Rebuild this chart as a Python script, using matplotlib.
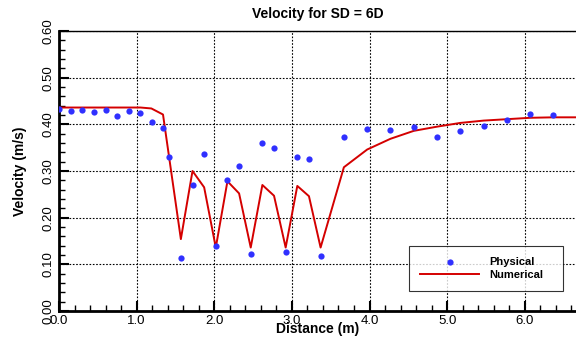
import numpy as np
import matplotlib
matplotlib.use("Agg")
import matplotlib.pyplot as plt
from matplotlib.ticker import MultipleLocator

# Physical (measured) velocities
phys_x = [0.00, 0.15, 0.30, 0.45, 0.60, 0.75, 0.90, 1.05, 1.20, 1.34, 1.42,
          1.57, 1.73, 1.87, 2.02, 2.17, 2.32, 2.47, 2.62, 2.77, 2.92, 3.07,
          3.22, 3.37, 3.67, 3.97, 4.27, 4.57, 4.87, 5.17, 5.47, 5.77, 6.07, 6.37]
phys_v = [0.432, 0.428, 0.431, 0.426, 0.430, 0.417, 0.428, 0.424, 0.406, 0.392, 0.331,
          0.114, 0.271, 0.336, 0.139, 0.280, 0.310, 0.123, 0.360, 0.349, 0.127, 0.331,
          0.326, 0.118, 0.373, 0.389, 0.388, 0.395, 0.373, 0.386, 0.397, 0.409, 0.423, 0.420]

# Numerical model velocities
num_x = [0.00, 0.30, 0.60, 0.90, 1.05, 1.19, 1.34, 1.57, 1.72, 1.87, 2.02, 2.17,
         2.32, 2.47, 2.62, 2.77, 2.92, 3.07, 3.22, 3.37, 3.67, 3.97, 4.27, 4.57,
         4.87, 5.17, 5.47, 5.77, 6.07, 6.37, 6.66]
num_v = [0.436, 0.436, 0.436, 0.436, 0.436, 0.434, 0.421, 0.154, 0.300, 0.265, 0.136, 0.278,
         0.252, 0.136, 0.270, 0.247, 0.136, 0.268, 0.246, 0.136, 0.308, 0.346, 0.369, 0.386,
         0.395, 0.403, 0.408, 0.411, 0.414, 0.415, 0.415]

plt.rcParams["font.family"] = ["Liberation Sans", "DejaVu Sans"]

fig = plt.figure(figsize=(5.76, 3.39), dpi=100)
ax = fig.add_axes([0.1024, 0.0826, 0.8976, 0.826])

ax.plot(num_x, num_v, color="#d40000", linewidth=1.4, label="Numerical", zorder=3)
ax.plot(phys_x, phys_v, linestyle="none", marker="o", markersize=4.5,
        color="#3030ff", markeredgewidth=0, label="Physical", zorder=4)

ax.set_xlim(0, 6.66)
ax.set_ylim(0, 0.6)
ax.xaxis.set_major_locator(MultipleLocator(1.0))
ax.xaxis.set_minor_locator(MultipleLocator(0.2))
ax.yaxis.set_major_locator(MultipleLocator(0.1))
ax.yaxis.set_minor_locator(MultipleLocator(0.02))
ax.xaxis.set_major_formatter(plt.FuncFormatter(lambda v, p: f"{v:.1f}"))
ax.yaxis.set_major_formatter(plt.FuncFormatter(lambda v, p: f"{v:.2f}"))

ax.tick_params(which="major", direction="in", length=7, width=1.5, labelsize=9.5)
ax.tick_params(axis="x", which="major", pad=3)
ax.tick_params(which="minor", direction="in", length=4, width=1)
for lab in ax.get_yticklabels():
    lab.set_rotation(90)
    lab.set_va("center")

ax.grid(True, which="major", color="black", linestyle=(0, (1.5, 1.5)), linewidth=0.8)

ax.spines["left"].set_linewidth(2)
ax.spines["bottom"].set_linewidth(2)
ax.spines["top"].set_linewidth(1)
ax.spines["right"].set_visible(False)

ax.set_title("Velocity for SD = 6D", fontsize=10, fontweight="bold", pad=9)
ax.set_xlabel("Distance (m)", fontsize=10, fontweight="bold", labelpad=-4)
ax.set_ylabel("Velocity (m/s)", fontsize=10, fontweight="bold", labelpad=11)

handles, labels = ax.get_legend_handles_labels()
leg = ax.legend(handles[::-1], labels[::-1], loc="center", mode="expand",
                bbox_to_anchor=(0.677, 0.065, 0.298, 0.171),
                fancybox=False, frameon=True, handlelength=5.3, handletextpad=0.9,
                borderpad=1.0, labelspacing=0.25, borderaxespad=0,
                prop={"weight": "bold", "size": 8})
leg.get_frame().set_edgecolor("black")
leg.get_frame().set_linewidth(0.8)

fig.savefig("out.png", dpi=100)
